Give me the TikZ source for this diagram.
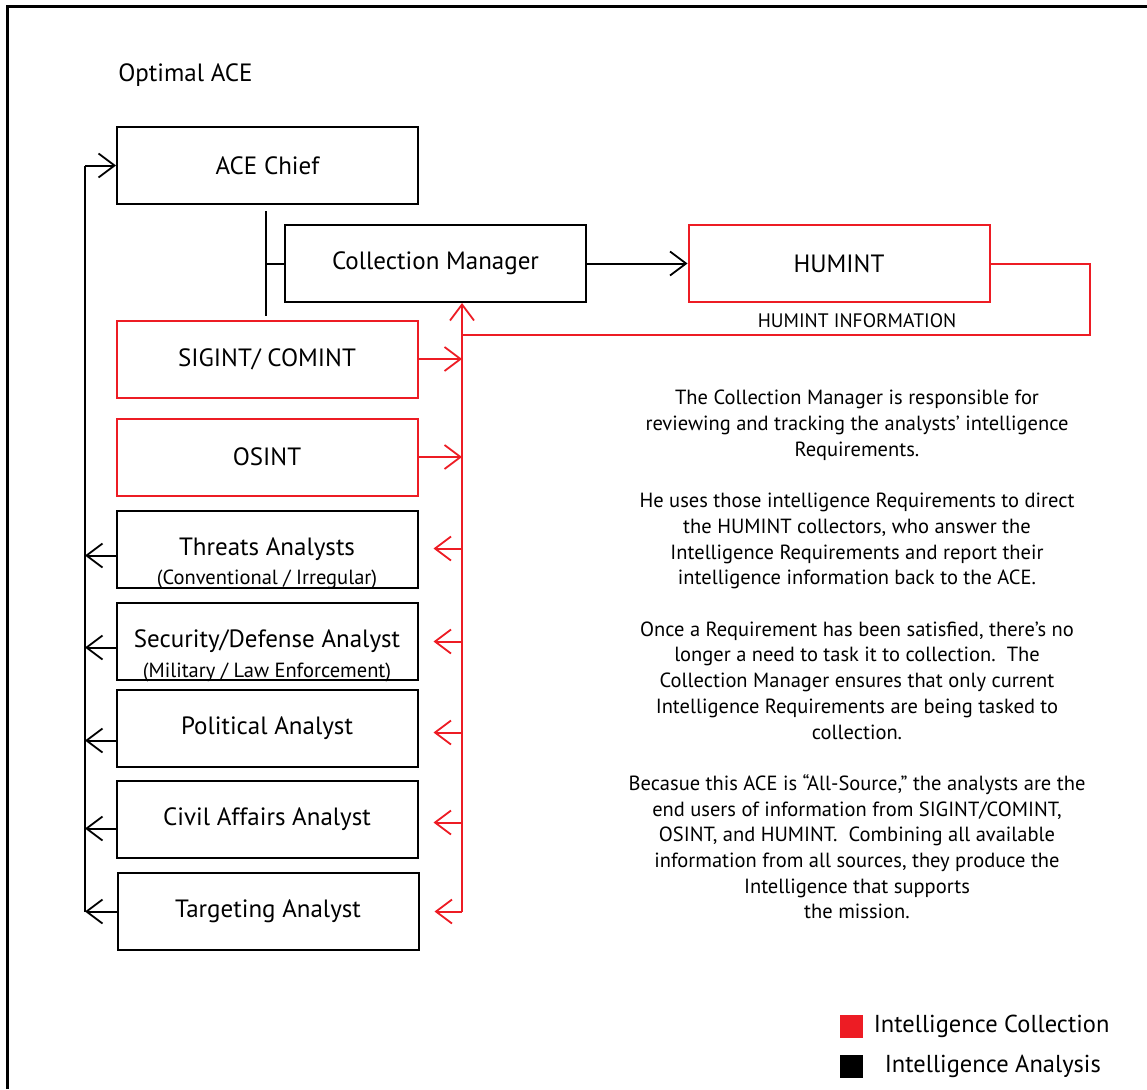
\documentclass[tikz,border=0pt]{standalone}
\usepackage{fontspec}
\setmainfont{PT Sans}
\usetikzlibrary{arrows.meta}
\usetikzlibrary{calc}
\definecolor{collred}{RGB}{237,28,36}

\begin{document}
\begin{tikzpicture}[x=1pt, y=-1pt, line width=2pt,
    unitbox/.style={draw, minimum width=301pt, minimum height=77pt, inner sep=0pt,
        font=\fontsize{25}{28}\selectfont},
    collbox/.style={unitbox, draw=collred},
    barb/.style={-{Straight Barb[length=16pt, width=24pt, line width=1.8pt]}},
    subtext/.style={font=\fontsize{20.5}{22}\selectfont}]

    \useasboundingbox (0,0) rectangle (1147,1089);
    \draw[line width=3pt] (7,1089) -- (7,7) -- (1147,7);

    \node [anchor=west, font=\fontsize{25}{28}\selectfont] (title) at (114,75) {Optimal ACE};

    % boxes
    \node [unitbox] (chief) at (267.5,165.5) {ACE Chief};
    \node [unitbox] (cm) at (435.5,263.5) {Collection Manager};
    \node [collbox] (humint) at (839,263.5) {HUMINT};
    \node [collbox] (sigint) at (267,359) {SIGINT/ COMINT};
    \node [collbox] (osint) at (267,457) {OSINT};
    \node [unitbox] (threats) at (267,549.5) {Threats Analysts};
    \node [subtext] (threatsub) at ($(threats.south)+(0,-10)$) {(Conventional / Irregular)};
    \node [unitbox] (security) at (267,641.5) {Security/Defense Analyst};
    \node [subtext] (securitysub) at ($(security.south)+(0,-9)$) {(Military / Law Enforcement)};
    \node [unitbox] (political) at (267,728.5) {Political Analyst};
    \node [unitbox] (civil) at (267,819.5) {Civil Affairs Analyst};
    \node [unitbox] (target) at (268,911.5) {Targeting Analyst};

    % chief to collection manager
    \coordinate (ctop) at (266,211);
    \coordinate (cbot) at (266,316);
    \draw (ctop) -- (cbot);
    \draw (ctop |- cm.west) -- (cm.west);
    \draw[barb] (cm.east) -- (humint.west);

    % analysis bus
    \coordinate (lbus) at (85,165.5);
    \coordinate (lbusend) at (85,912);
    \draw (lbusend) -- (lbus);
    \draw[barb] (lbus) -- (chief.west);
    \foreach \n/\d in {threats/6, security/6, political/12, civil/9, target/0}
        \draw[barb] ([yshift=-\d pt]\n.west) -- ([yshift=-\d pt]\n.west -| lbus);

    % collection bus
    \coordinate (rbus) at (462,911.5);
    \coordinate (hinfo) at (462,335);
    \draw[barb, collred] (rbus) -- (rbus |- cm.south);
    \draw[barb, collred] (sigint.east) -- (sigint.east -| rbus);
    \draw[barb, collred] (osint.east) -- (osint.east -| rbus);
    \foreach \n/\d in {threats/-1, security/0, political/4, civil/3, target/0}
        \draw[barb, collred, shorten >=15pt] ([yshift=-\d pt]\n.east -| rbus) -- ([yshift=-\d pt]\n.east);
    \draw[collred] (humint.east) -| (1090,335) -- (hinfo);
    \node [font=\fontsize{19.5}{22}\selectfont] (hlabel) at (857,321) {HUMINT INFORMATION};

    % notes
    \node [anchor=north, align=center, font=\fontsize{20.5}{25.7}\selectfont] (notes) at (857,386) {%
        The Collection Manager is responsible for\\
        reviewing and tracking the analysts’ intelligence\\
        Requirements.\\[25.7pt]
        He uses those intelligence Requirements to direct\\
        the HUMINT collectors, who answer the\\
        Intelligence Requirements and report their\\
        intelligence information back to the ACE.\\[25.7pt]
        Once a Requirement has been satisfied, there’s no\\
        longer a need to task it to collection.\ \ The\\
        Collection Manager ensures that only current\\
        Intelligence Requirements are being tasked to\\
        collection.\\[25.7pt]
        Becasue this ACE is “All-Source,” the analysts are the\\
        end users of information from SIGINT/COMINT,\\
        OSINT, and HUMINT.\ \ Combining all available\\
        information from all sources, they produce the\\
        Intelligence that supports\\
        the mission.};

    % legend
    \node [fill=collred, minimum size=23pt, inner sep=0pt] (keycoll) at (851,1026.5) {};
    \node [fill=black, minimum size=23pt, inner sep=0pt] (keyana) at (851,1066.5) {};
    \node [anchor=west, font=\fontsize{24.5}{28}\selectfont] (keycolltxt) at ([xshift=6pt]keycoll.east) {Intelligence Collection};
    \node [anchor=west, font=\fontsize{24.5}{28}\selectfont] (keyanatxt) at ([xshift=17pt]keyana.east) {Intelligence Analysis};

\end{tikzpicture}
\end{document}
